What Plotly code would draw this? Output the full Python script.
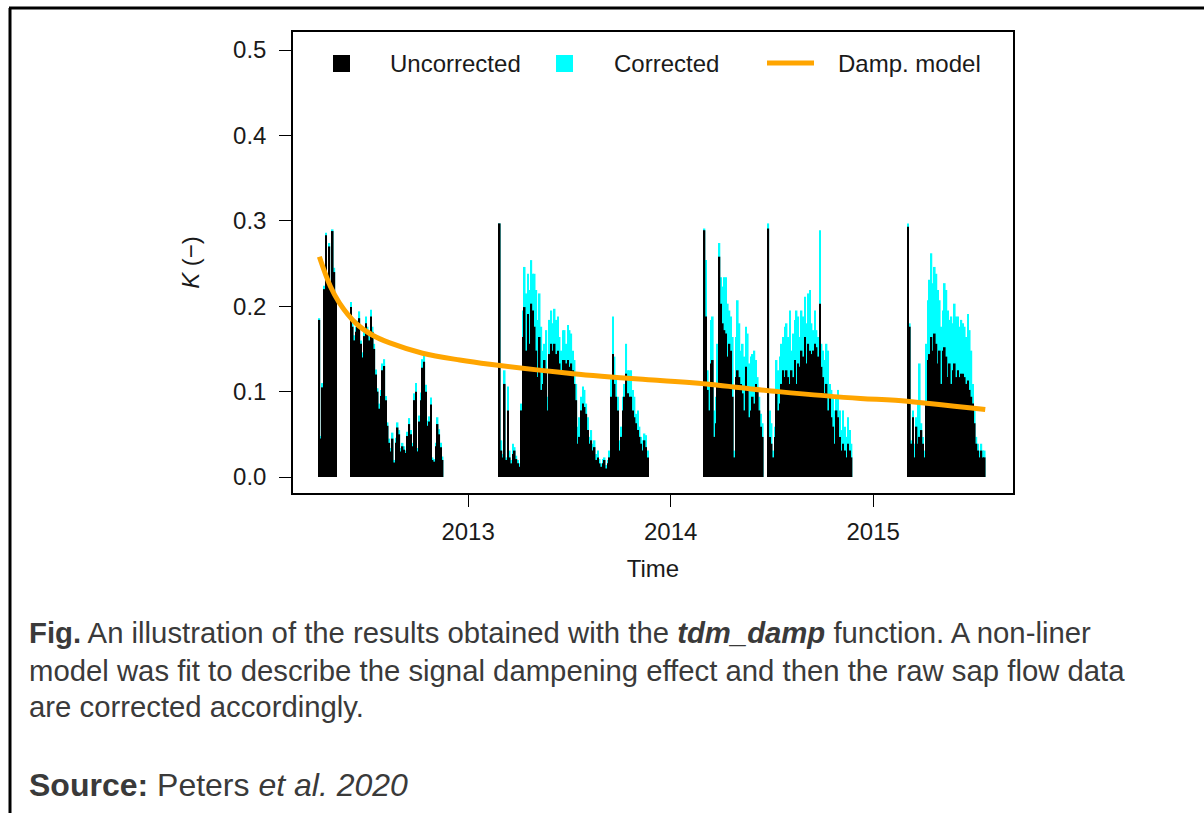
import pandas as pd
import plotly.graph_objects as go

# ---------------- data ----------------
STEP_DAYS = 3
seg_starts = ["2012-04-08", "2012-06-04", "2013-02-27", "2014-03-03", "2014-06-26", "2015-03-05"]

unc_seg1 = [0.184, 0.045, 0.105, 0.220, 0.283, 0.230, 0.270, 0.220, 0.288, 0.240, 0.210]
cor_seg1 = [0.186, 0.048, 0.110, 0.224, 0.286, 0.235, 0.274, 0.225, 0.290, 0.245, 0.214]

unc_seg2 = [0.199, 0.176, 0.160, 0.170, 0.176, 0.186, 0.156, 0.140, 0.165, 0.180, 0.170, 0.160, 0.188, 0.170,
            0.150, 0.120, 0.100, 0.080, 0.095, 0.125, 0.130, 0.090, 0.060, 0.040, 0.030, 0.045, 0.017, 0.040,
            0.058, 0.050, 0.030, 0.036, 0.032, 0.028, 0.048, 0.062, 0.050, 0.036, 0.090, 0.100, 0.030, 0.065,
            0.090, 0.128, 0.135, 0.100, 0.060, 0.065, 0.085, 0.020, 0.018, 0.036, 0.062, 0.050, 0.035, 0.020]
cor_seg2 = [0.205, 0.180, 0.166, 0.176, 0.183, 0.194, 0.160, 0.146, 0.172, 0.188, 0.176, 0.165, 0.196, 0.176,
            0.156, 0.126, 0.104, 0.086, 0.102, 0.133, 0.138, 0.095, 0.064, 0.045, 0.034, 0.052, 0.020, 0.046,
            0.064, 0.055, 0.034, 0.040, 0.036, 0.031, 0.053, 0.069, 0.055, 0.040, 0.098, 0.110, 0.034, 0.072,
            0.099, 0.138, 0.145, 0.108, 0.066, 0.071, 0.093, 0.023, 0.021, 0.040, 0.070, 0.056, 0.040, 0.024]

unc_seg3 = [0.297, 0.031, 0.023, 0.109, 0.020, 0.078, 0.023, 0.016, 0.027, 0.031, 0.021, 0.016, 0.012, 0.078,
            0.164, 0.199, 0.148, 0.191, 0.156, 0.203, 0.195, 0.176, 0.148, 0.117, 0.164, 0.102, 0.109, 0.137,
            0.125, 0.078, 0.144, 0.156, 0.148, 0.156, 0.144, 0.148, 0.133, 0.125, 0.137, 0.137, 0.133, 0.137,
            0.129, 0.133, 0.125, 0.109, 0.090, 0.039, 0.047, 0.078, 0.086, 0.082, 0.074, 0.055, 0.039, 0.043,
            0.031, 0.035, 0.020, 0.023, 0.016, 0.012, 0.016, 0.020, 0.010, 0.016, 0.023, 0.094, 0.144, 0.109,
            0.094, 0.078, 0.031, 0.047, 0.078, 0.094, 0.121, 0.098, 0.094, 0.094, 0.078, 0.070, 0.063, 0.055,
            0.047, 0.039, 0.031, 0.043, 0.035, 0.023]
cor_seg3 = [0.297, 0.043, 0.027, 0.125, 0.023, 0.106, 0.031, 0.020, 0.039, 0.035, 0.025, 0.020, 0.016, 0.086,
            0.195, 0.246, 0.215, 0.238, 0.219, 0.254, 0.238, 0.238, 0.219, 0.184, 0.215, 0.176, 0.148, 0.156,
            0.172, 0.094, 0.184, 0.195, 0.180, 0.197, 0.184, 0.188, 0.164, 0.148, 0.172, 0.172, 0.156, 0.178,
            0.172, 0.168, 0.148, 0.137, 0.109, 0.059, 0.070, 0.094, 0.106, 0.102, 0.086, 0.070, 0.047, 0.055,
            0.039, 0.043, 0.027, 0.031, 0.021, 0.016, 0.021, 0.023, 0.014, 0.020, 0.031, 0.117, 0.188, 0.141,
            0.117, 0.094, 0.043, 0.059, 0.094, 0.109, 0.156, 0.125, 0.125, 0.125, 0.102, 0.094, 0.074, 0.078,
            0.059, 0.047, 0.043, 0.051, 0.049, 0.031]

unc_seg4 = [0.289, 0.188, 0.102, 0.078, 0.133, 0.137, 0.047, 0.063, 0.109, 0.258, 0.203, 0.180, 0.172, 0.168,
            0.141, 0.156, 0.148, 0.094, 0.023, 0.117, 0.125, 0.117, 0.109, 0.098, 0.078, 0.129, 0.102, 0.070,
            0.078, 0.094, 0.086, 0.109, 0.102, 0.078, 0.059, 0.047]
cor_seg4 = [0.291, 0.254, 0.125, 0.106, 0.184, 0.188, 0.078, 0.094, 0.156, 0.274, 0.234, 0.223, 0.234, 0.234,
            0.203, 0.195, 0.188, 0.164, 0.031, 0.164, 0.207, 0.180, 0.148, 0.156, 0.141, 0.176, 0.168, 0.133,
            0.141, 0.144, 0.148, 0.137, 0.117, 0.094, 0.074, 0.063]

unc_seg5 = [0.291, 0.047, 0.039, 0.023, 0.047, 0.102, 0.078, 0.086, 0.109, 0.125, 0.117, 0.125, 0.117, 0.109,
            0.125, 0.117, 0.137, 0.109, 0.133, 0.129, 0.148, 0.141, 0.164, 0.133, 0.156, 0.148, 0.144, 0.148,
            0.156, 0.152, 0.141, 0.203, 0.129, 0.117, 0.098, 0.109, 0.078, 0.094, 0.070, 0.059, 0.039, 0.078,
            0.070, 0.047, 0.031, 0.039, 0.031, 0.023, 0.039, 0.031, 0.023]
cor_seg5 = [0.297, 0.078, 0.063, 0.031, 0.059, 0.137, 0.125, 0.141, 0.156, 0.164, 0.176, 0.180, 0.164, 0.195,
            0.148, 0.168, 0.184, 0.195, 0.188, 0.164, 0.195, 0.188, 0.211, 0.180, 0.215, 0.219, 0.180, 0.172,
            0.195, 0.172, 0.164, 0.289, 0.156, 0.148, 0.137, 0.156, 0.148, 0.109, 0.102, 0.094, 0.078, 0.094,
            0.102, 0.078, 0.055, 0.078, 0.059, 0.047, 0.070, 0.055, 0.039]

unc_seg6 = [0.293, 0.176, 0.039, 0.070, 0.023, 0.059, 0.039, 0.047, 0.055, 0.039, 0.023, 0.086, 0.137, 0.144,
            0.164, 0.148, 0.168, 0.156, 0.133, 0.148, 0.109, 0.148, 0.152, 0.141, 0.117, 0.133, 0.109, 0.125,
            0.133, 0.117, 0.125, 0.117, 0.121, 0.121, 0.117, 0.109, 0.113, 0.102, 0.094, 0.086, 0.063, 0.039,
            0.031, 0.023, 0.031, 0.023, 0.023]
cor_seg6 = [0.297, 0.180, 0.043, 0.078, 0.039, 0.070, 0.086, 0.133, 0.063, 0.047, 0.031, 0.156, 0.207, 0.231,
            0.262, 0.227, 0.246, 0.238, 0.219, 0.207, 0.176, 0.195, 0.227, 0.219, 0.195, 0.184, 0.188, 0.180,
            0.203, 0.188, 0.188, 0.176, 0.184, 0.180, 0.176, 0.164, 0.191, 0.172, 0.148, 0.109, 0.078, 0.047,
            0.039, 0.031, 0.039, 0.031, 0.031]

model_dates = ["2012-04-08", "2012-04-28", "2012-05-14", "2012-06-13", "2012-07-13", "2012-08-13",
               "2012-10-11", "2012-12-17", "2013-02-09", "2013-07-09", "2013-12-13", "2014-02-15",
               "2014-07-14", "2014-12-09", "2015-02-10", "2015-07-22"]
model_vals = [0.258, 0.223, 0.204, 0.180, 0.166, 0.157, 0.145, 0.137, 0.132, 0.121, 0.113, 0.110,
              0.100, 0.092, 0.090, 0.079]

year_ticks = ["2013-01-01", "2014-01-01", "2015-01-01"]
year_labels = ["2013", "2014", "2015"]
y_ticks = [0.0, 0.1, 0.2, 0.3, 0.4, 0.5]

unc_segments = [unc_seg1, unc_seg2, unc_seg3, unc_seg4, unc_seg5, unc_seg6]
cor_segments = [cor_seg1, cor_seg2, cor_seg3, cor_seg4, cor_seg5, cor_seg6]


def build(segments):
    xs, ys = [], []
    for start, vals in zip(seg_starts, segments):
        d = pd.date_range(start, periods=len(vals), freq=f"{STEP_DAYS}D")
        xs.extend(d)
        ys.extend(vals)
    return xs, ys


ux, uy = build(unc_segments)
cx, cy = build(cor_segments)

# ---------------- layout geometry ----------------
W, H = 1204, 813
L, R, T, B = 293, 1013, 32, 493
FONT = "Liberation Sans, Arial, sans-serif"
AX = 24


def px(x):
    return (x - L) / (R - L)


def py(y):
    return (B - y) / (B - T)


bar_w = STEP_DAYS * 24 * 3600 * 1000

fig = go.Figure()
fig.add_trace(go.Bar(x=cx, y=cy, width=bar_w, marker=dict(color="#00FFFF", line=dict(width=0)),
                     name="Corrected"))
fig.add_trace(go.Bar(x=ux, y=uy, width=bar_w, marker=dict(color="#000000", line=dict(width=0)),
                     name="Uncorrected"))
fig.add_trace(go.Scatter(x=model_dates, y=model_vals, mode="lines",
                         line=dict(color="#FFA500", width=5, shape="spline"), name="Damp. model"))

fig.update_layout(
    width=W, height=H,
    margin=dict(l=L, r=W - R, t=T, b=H - B, pad=0),
    paper_bgcolor="white", plot_bgcolor="white",
    barmode="overlay", showlegend=False,
    font=dict(family=FONT, color="#1a1a1a", size=AX),
)
fig.update_xaxes(
    type="date", range=["2012-02-20 12:00", "2015-09-10"],
    tickmode="array", tickvals=year_ticks, ticktext=year_labels,
    ticks="outside", ticklen=12, tickwidth=1.3, tickcolor="black",
    showline=True, mirror=True, linecolor="black", linewidth=1.5,
    showgrid=False, zeroline=False, ticklabelstandoff=4,
    tickfont=dict(size=AX, family=FONT),
    title=dict(text="Time", font=dict(size=AX, family=FONT), standoff=17),
)
fig.update_yaxes(
    range=[-0.0187, 0.5211],
    tickmode="array", tickvals=y_ticks, ticktext=[f"{v:.1f}" for v in y_ticks],
    ticks="outside", ticklen=12, tickwidth=1.3, tickcolor="black",
    showline=True, mirror=True, linecolor="black", linewidth=1.5,
    showgrid=False, zeroline=False, ticklabelstandoff=8,
    tickfont=dict(size=AX, family=FONT),
    title=dict(text="<i>K</i> (−)", font=dict(size=AX, family=FONT), standoff=27),
)

shapes = []
# outer frame (top and left edges)
shapes.append(dict(type="line", xref="paper", yref="paper", x0=px(9), x1=px(1210), y0=py(8), y1=py(8),
                   line=dict(color="black", width=3)))
shapes.append(dict(type="line", xref="paper", yref="paper", x0=px(10), x1=px(10), y0=py(8), y1=py(820),
                   line=dict(color="black", width=3)))
# legend keys
shapes.append(dict(type="rect", xref="paper", yref="paper", x0=px(333), x1=px(350), y0=py(72), y1=py(55),
                   fillcolor="black", line=dict(width=0)))
shapes.append(dict(type="rect", xref="paper", yref="paper", x0=px(556), x1=px(573), y0=py(72), y1=py(55),
                   fillcolor="#00FFFF", line=dict(width=0)))
shapes.append(dict(type="line", xref="paper", yref="paper", x0=px(767), x1=px(814), y0=py(63), y1=py(63),
                   line=dict(color="#FFA500", width=5)))
fig.update_layout(shapes=shapes)

ann = []
for txt, x0 in [("Uncorrected", 388), ("Corrected", 612), ("Damp. model", 836)]:
    ann.append(dict(text=txt, xref="paper", yref="paper", x=px(x0), y=py(63), xanchor="left",
                    yanchor="middle", showarrow=False, font=dict(size=AX, family=FONT, color="#1a1a1a")))

cap_font = dict(size=29.3, family=FONT, color="#3a3a3a")
captions = [
    ("<b>Fig.</b> An illustration of the results obtained with the <b><i>tdm_damp</i></b> function. A non-liner", 632, 29.3),
    ("model was fit to describe the signal dampening effect and then the raw sap flow data", 670, 29.3),
    ("are corrected accordingly.", 706, 29.3),
    ("<b>Source:</b> Peters <i>et al. 2020</i>", 785, 32),
]
for txt, yy, fs in captions:
    ann.append(dict(text=txt, xref="paper", yref="paper", x=px(27), y=py(yy), xanchor="left",
                    yanchor="middle", showarrow=False,
                    font=dict(size=fs, family=FONT, color="#3a3a3a")))
fig.update_layout(annotations=ann)

fig.write_html("out.html")
